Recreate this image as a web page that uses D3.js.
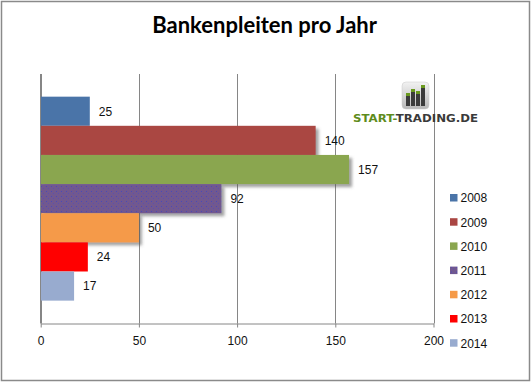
<!DOCTYPE html>
<html><head><meta charset="utf-8">
<script src="https://cdn.jsdelivr.net/npm/d3@7"></script>
<style>html,body{margin:0;padding:0;background:#fff;}svg{display:block;}</style>
</head><body>
<div id="chart"></div>
<script>
const title = "Bankenpleiten pro Jahr";
const years = ["2008","2009","2010","2011","2012","2013","2014"];
const values = [25, 140, 157, 92, 50, 24, 17];
const colors = ["#4a74a8","#aa4643","#8aa64f","#71588f","#f59a48","#ff0000","#98abcf"];
const shadowed = [false, true, true, true, true, false, false];
const xTicks = [0, 50, 100, 150, 200];

const W = 531, H = 382;
const svg = d3.select("#chart").append("svg").attr("width", W).attr("height", H);
const defs = svg.append("defs");
const f = defs.append("filter").attr("id","sh").attr("x","-10%").attr("y","-10%").attr("width","130%").attr("height","140%");
f.append("feDropShadow").attr("dx",3).attr("dy",3).attr("stdDeviation",1.6).attr("flood-color","#555").attr("flood-opacity",0.55);
const pat = defs.append("pattern").attr("id","dots").attr("patternUnits","userSpaceOnUse").attr("width",5).attr("height",5);
pat.append("rect").attr("width",5).attr("height",5).attr("fill","#71588f");
pat.append("rect").attr("x",1).attr("y",1).attr("width",1).attr("height",1).attr("fill","#4a4ab8");
pat.append("rect").attr("x",3).attr("y",3).attr("width",1).attr("height",1).attr("fill","#5a50b0");
const g1 = defs.append("linearGradient").attr("id","icon").attr("x1",0).attr("y1",0).attr("x2",0).attr("y2",1);
g1.append("stop").attr("offset","0").attr("stop-color","#f2f2f2");
g1.append("stop").attr("offset","1").attr("stop-color","#b8b8b8");

svg.append("rect").attr("x",1.5).attr("y",1.5).attr("width",W-3).attr("height",H-3)
  .attr("fill","#fff").attr("stroke","#8a8a8a").attr("stroke-width",1.5);

svg.append("text").attr("x",264.6).attr("y",33).attr("text-anchor","middle")
  .attr("font-family","Lato, 'Open Sans', sans-serif").attr("font-weight","bold").attr("font-size",22)
  .attr("fill","#000").text(title);

const x = d3.scaleLinear().domain([0,200]).range([40.7,433.5]);
const y = d3.scaleBand().domain(years).range([74,323.3]).paddingInner(0).paddingOuter(0.778);

// gridlines
svg.append("g").selectAll("line").data(xTicks).join("line")
  .attr("x1",d=>Math.round(x(d))+0.5).attr("x2",d=>Math.round(x(d))+0.5)
  .attr("y1",74).attr("y2",323.5).attr("stroke","#868686").attr("stroke-width",1);

// logo
const logo = svg.append("g");
logo.append("rect").attr("x",402).attr("y",82).attr("width",27).attr("height",27).attr("rx",4)
  .attr("fill","url(#icon)").attr("stroke","#c8c8c8").attr("stroke-width",0.5);
const lb = [[406,96],[411,92],[416,94],[421,88]];
lb.forEach(([bx,by])=>{
  logo.append("rect").attr("x",bx).attr("y",by).attr("width",4).attr("height",106-by).attr("fill","#3b3b3b");
  logo.append("rect").attr("x",bx).attr("y",by-3).attr("width",4).attr("height",3).attr("fill","#6a9a1e");
});
const lt = logo.append("text").attr("x",353).attr("y",122).attr("font-family","'DejaVu Sans', Verdana, sans-serif")
  .attr("font-weight","bold").attr("font-size",10.5).attr("textLength",125).attr("lengthAdjust","spacingAndGlyphs");
lt.append("tspan").attr("fill","#5e8c1c").text("START-");
lt.append("tspan").attr("fill","#3a3a3a").text("TRADING.DE");

// bars
const data = years.map((yr,i)=>({yr, v:values[i], c:colors[i], s:shadowed[i]}));
svg.append("g").selectAll("rect").data(data).join("rect")
  .attr("x",x(0)).attr("y",d=>y(d.yr)).attr("width",d=>x(d.v)-x(0)).attr("height",y.bandwidth())
  .attr("fill",d=>d.yr==="2011" ? "url(#dots)" : d.c)
  .attr("filter",d=>d.s ? "url(#sh)" : null);

// value labels
svg.append("g").selectAll("text").data(data).join("text")
  .attr("x",d=>x(d.v)+9).attr("y",d=>y(d.yr)+y.bandwidth()/2).attr("dy","0.36em")
  .attr("font-family","'Liberation Sans', Arial, sans-serif").attr("font-size",12).attr("fill","#111")
  .text(d=>d.v);

// axes
svg.append("line").attr("x1",40.5).attr("x2",40.5).attr("y1",74).attr("y2",323.5).attr("stroke","#868686");
const ax = svg.append("g").attr("transform","translate(0,323.5)")
  .call(d3.axisBottom(x).tickValues(xTicks).tickSize(4).tickPadding(9).tickSizeOuter(0));
ax.select(".domain").attr("stroke","#868686");
ax.selectAll(".tick line").attr("stroke","#868686");
ax.selectAll(".tick text").attr("font-family","'Liberation Sans', Arial, sans-serif").attr("font-size",12).attr("fill","#111");

// legend
const lg = svg.append("g").selectAll("g").data(data).join("g")
  .attr("transform",(d,i)=>`translate(450,${198 + i*24.2})`);
lg.append("rect").attr("x",0).attr("y",-4).attr("width",7.5).attr("height",7.5)
  .attr("fill",d=>d.yr==="2011" ? "url(#dots)" : d.c);
lg.append("text").attr("x",10.5).attr("y",0).attr("dy","0.36em")
  .attr("font-family","'Liberation Sans', Arial, sans-serif").attr("font-size",12).attr("fill","#111")
  .text(d=>d.yr);
</script>
</body></html>
